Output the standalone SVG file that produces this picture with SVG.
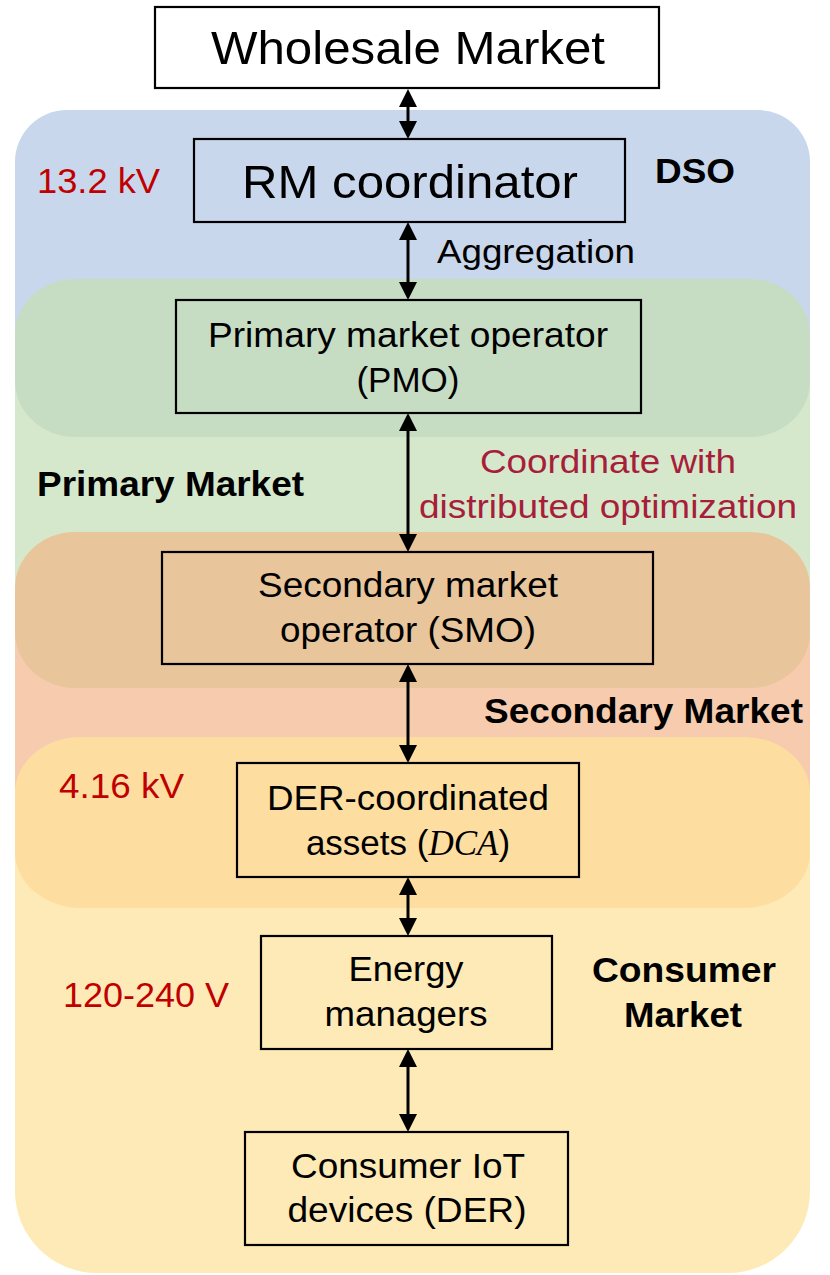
<svg xmlns="http://www.w3.org/2000/svg" width="830" height="1275" viewBox="0 0 830 1275">
<style>
text{font-family:"Liberation Sans",Arial,sans-serif;fill:#000;}
.big{font-size:47px;text-anchor:middle;}
.t{font-size:35px;text-anchor:middle;}
.lbl{font-size:34px;}
.b{font-size:35px;font-weight:bold;}
.red{fill:#C00000;font-size:35px;}
.crim{fill:#A71E3B;font-size:34px;text-anchor:middle;}
.box{fill:none;stroke:#000;stroke-width:2.2;}
.conn line{stroke:#000;stroke-width:3;marker-start:url(#ah);marker-end:url(#ah);}
</style>
<defs>
<clipPath id="outer">
<path d="M67,110 H758 A52,52 0 0 1 810,162 V1191 A82,82 0 0 1 728,1273 H97 A82,82 0 0 1 15,1191 V162 A52,52 0 0 1 67,110 Z"/>
</clipPath>
<marker id="ah" viewBox="0 0 18 18" refX="14" refY="9" markerWidth="18" markerHeight="18" markerUnits="userSpaceOnUse" orient="auto-start-reverse">
<path d="M0,0 L18,9 L0,18 Z" fill="#000"/>
</marker>
</defs>
<g id="background" clip-path="url(#outer)">
<rect x="15" y="110" width="795" height="252" fill="#C9D7EC"/>
<rect x="15" y="360" width="795" height="252" fill="#D6E8CB"/>
<rect x="15" y="610" width="795" height="222" fill="#F7CCAE"/>
<rect x="15" y="830" width="795" height="445" fill="#FEEAB6"/>
<rect x="15" y="279" width="795" height="158" rx="60" ry="56" fill="#C6DDC4"/>
<rect x="15" y="532" width="795" height="156" rx="60" ry="56" fill="#E8C59B"/>
<rect x="15" y="737" width="795" height="171" rx="66" ry="56" fill="#FDDEA0"/>
</g>
<g id="labels">
<text class="red" x="37" y="193" textLength="123" lengthAdjust="spacingAndGlyphs">13.2 kV</text>
<text class="b" x="655" y="183" textLength="80" lengthAdjust="spacingAndGlyphs">DSO</text>
<text class="lbl" x="437" y="263" textLength="198" lengthAdjust="spacingAndGlyphs">Aggregation</text>
<text class="b" x="37" y="496" textLength="267" lengthAdjust="spacingAndGlyphs">Primary Market</text>
<text class="crim" x="608" y="473" textLength="256" lengthAdjust="spacingAndGlyphs">Coordinate with</text>
<text class="crim" x="608" y="518" textLength="378" lengthAdjust="spacingAndGlyphs">distributed optimization</text>
<text class="b" x="484" y="723" textLength="319" lengthAdjust="spacingAndGlyphs">Secondary Market</text>
<text class="red" x="59" y="798" textLength="125" lengthAdjust="spacingAndGlyphs">4.16 kV</text>
<text class="red" x="63" y="1007" textLength="166" lengthAdjust="spacingAndGlyphs">120-240 V</text>
<text class="b" x="684" y="982" text-anchor="middle" textLength="184" lengthAdjust="spacingAndGlyphs">Consumer</text>
<text class="b" x="683" y="1027" text-anchor="middle" textLength="118" lengthAdjust="spacingAndGlyphs">Market</text>
</g>
<g id="wholesale">
<rect class="box" x="155" y="7" width="504" height="81" fill="#fff" style="fill:#fff"/>
<text class="big" x="408" y="64" textLength="394" lengthAdjust="spacingAndGlyphs">Wholesale Market</text>
</g>
<g id="rm">
<rect class="box" x="194" y="139" width="431" height="83"/>
<text class="big" x="410" y="198" textLength="336" lengthAdjust="spacingAndGlyphs">RM coordinator</text>
</g>
<g id="pmo">
<rect class="box" x="176" y="300" width="465" height="113"/>
<text class="t" x="408" y="347" textLength="400" lengthAdjust="spacingAndGlyphs">Primary market operator</text>
<text class="t" x="408" y="392">(PMO)</text>
</g>
<g id="smo">
<rect class="box" x="162" y="552" width="491" height="112"/>
<text class="t" x="408" y="597" textLength="300" lengthAdjust="spacingAndGlyphs">Secondary market</text>
<text class="t" x="408" y="642" textLength="256" lengthAdjust="spacingAndGlyphs">operator (SMO)</text>
</g>
<g id="dca">
<rect class="box" x="237" y="763" width="342" height="114"/>
<text class="t" x="408" y="810" textLength="282" lengthAdjust="spacingAndGlyphs">DER-coordinated</text>
<text class="t" x="408" y="855">assets (<tspan font-family="'Liberation Serif','DejaVu Serif',serif" font-style="italic">DCA</tspan>)</text>
</g>
<g id="em">
<rect class="box" x="261" y="936" width="291" height="113"/>
<text class="t" x="406" y="981" textLength="115" lengthAdjust="spacingAndGlyphs">Energy</text>
<text class="t" x="406" y="1026" textLength="163" lengthAdjust="spacingAndGlyphs">managers</text>
</g>
<g id="iot">
<rect class="box" x="245" y="1132" width="323" height="113"/>
<text class="t" x="408" y="1178" textLength="234" lengthAdjust="spacingAndGlyphs">Consumer IoT</text>
<text class="t" x="407" y="1222" textLength="239" lengthAdjust="spacingAndGlyphs">devices (DER)</text>
</g>
<g id="connectors" class="conn">
<line x1="408" y1="93" x2="408" y2="135"/>
<line x1="408" y1="226" x2="408" y2="296"/>
<line x1="408" y1="417" x2="408" y2="548"/>
<line x1="408" y1="668" x2="408" y2="759"/>
<line x1="408" y1="881" x2="408" y2="932"/>
<line x1="408" y1="1053" x2="408" y2="1128"/>
</g>
</svg>
